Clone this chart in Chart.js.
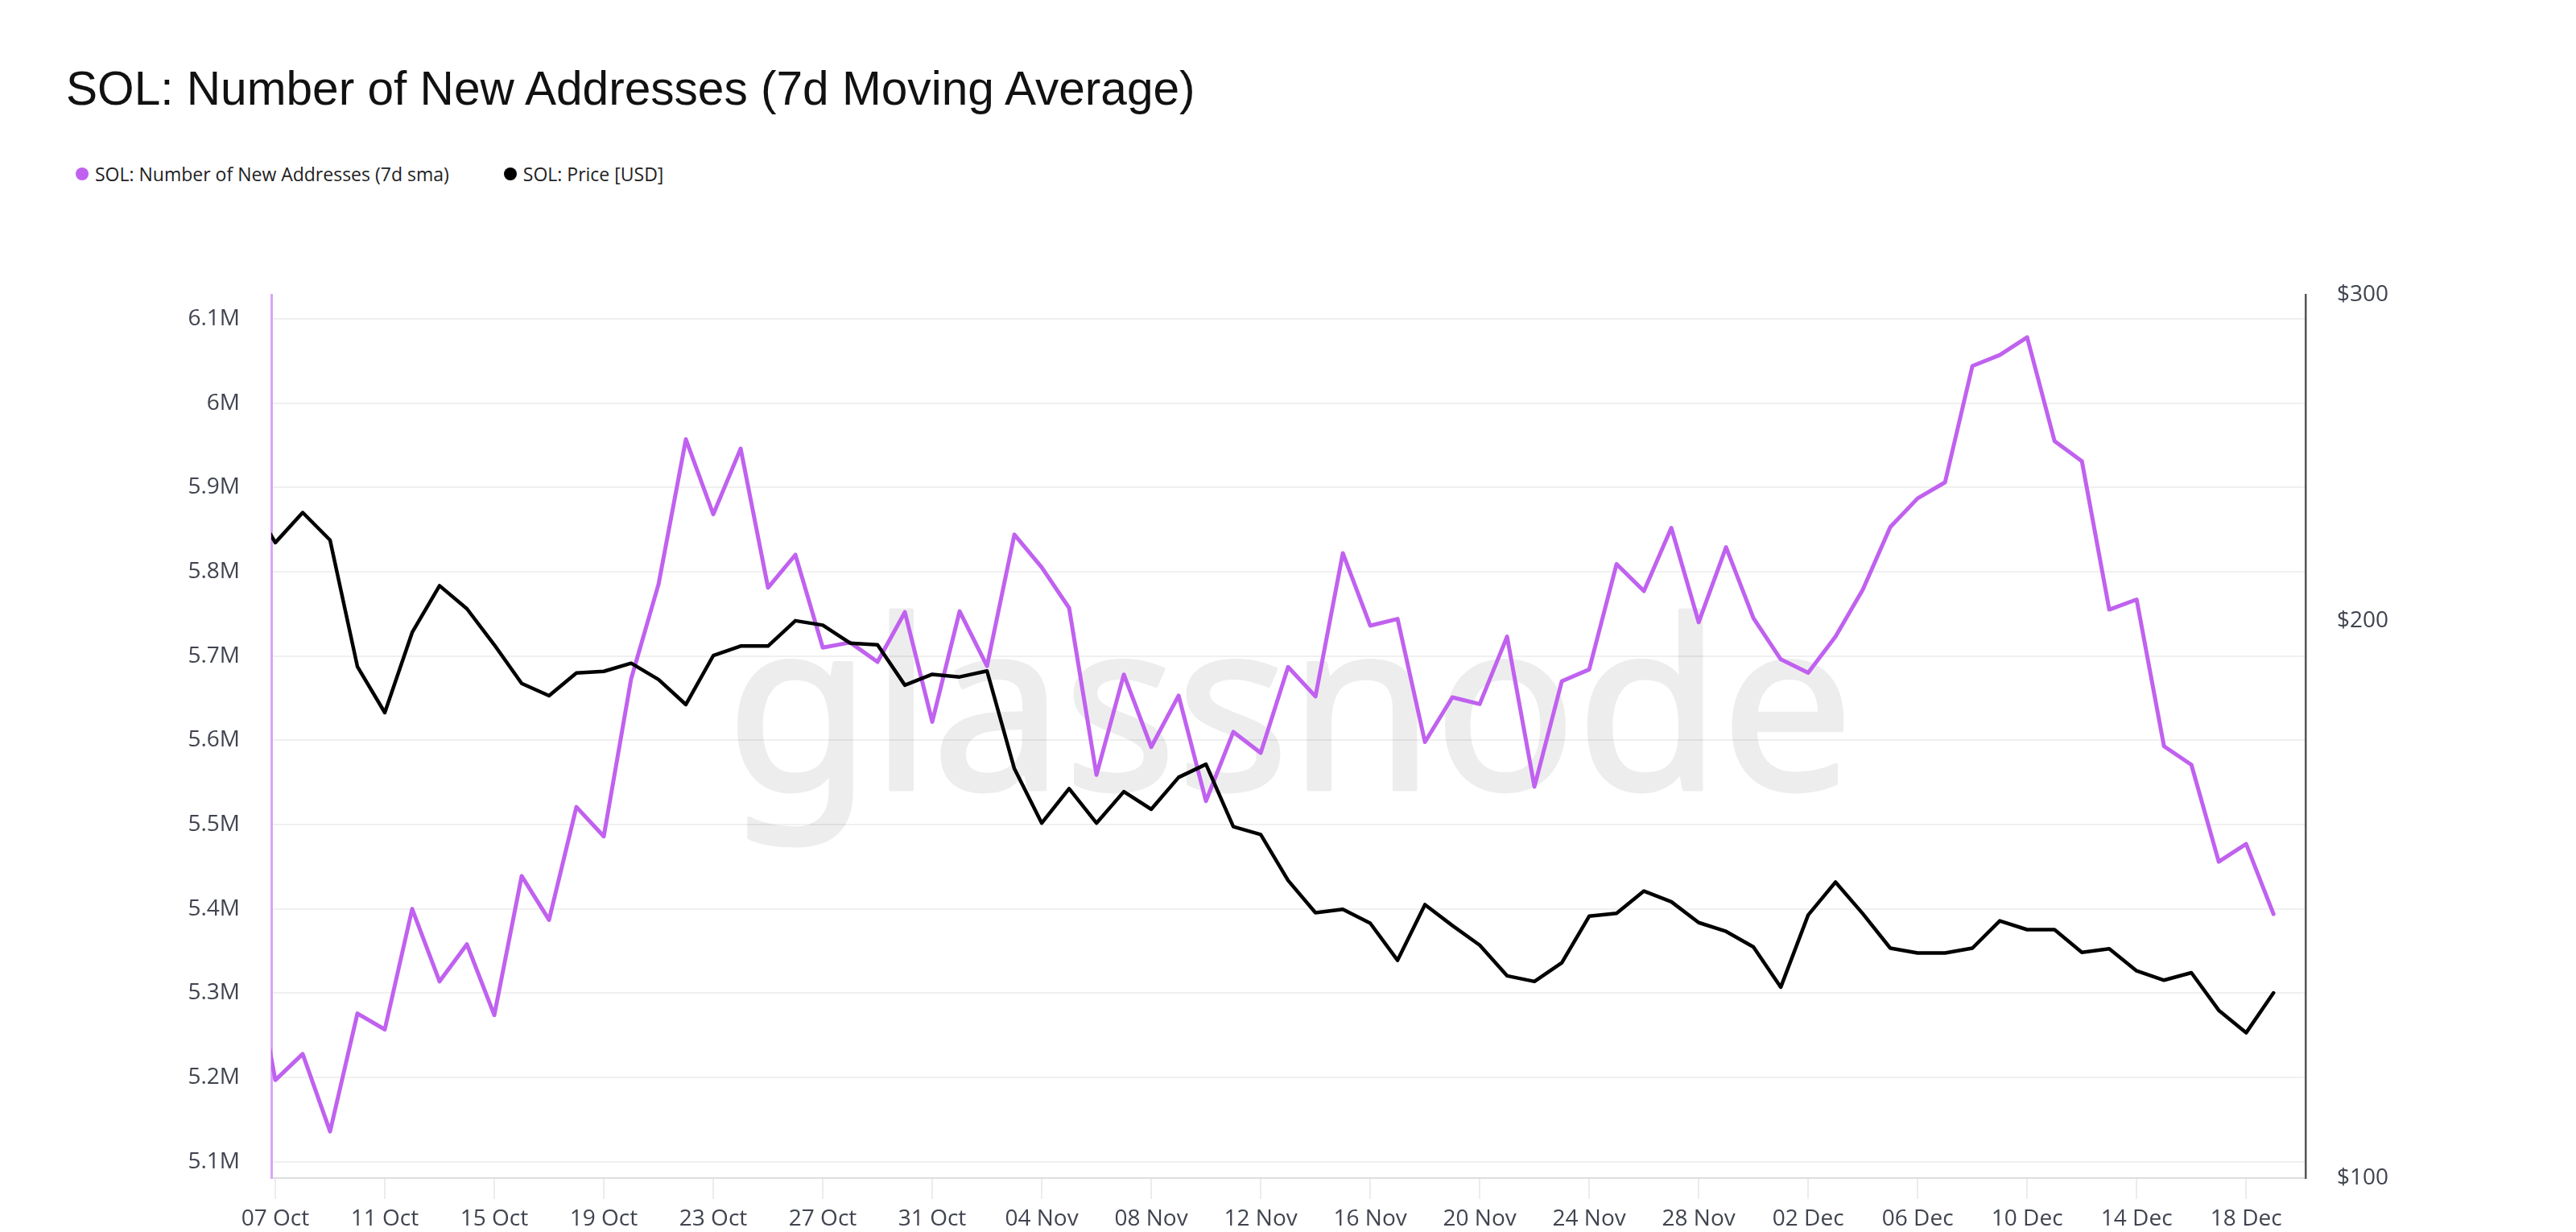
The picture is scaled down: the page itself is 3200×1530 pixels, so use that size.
<!DOCTYPE html>
<html>
<head>
<meta charset="utf-8">
<script src="https://cdn.jsdelivr.net/npm/chart.js@4.4.1/dist/chart.umd.min.js"></script>
<style>
  html, body { margin: 0; padding: 0; background: #fff; }
  body { width: 3200px; height: 1530px; position: relative; overflow: hidden; }
  #title {
    position: absolute; left: 82px; top: 80px;
    font: 58.6px "Liberation Sans", Arial, sans-serif; line-height: 60px; color: #111;
    white-space: nowrap;
  }
  #legend {
    position: absolute; left: 94px; top: 201px; height: 30px;
    display: flex; align-items: center;
    font: 23px "Open Sans", sans-serif; color: #222; white-space: nowrap;
  }
  .item { display: flex; align-items: center; margin-right: 68px; }
  .dot { width: 16px; height: 16px; border-radius: 50%; margin-right: 8px; }
  #chart { position: absolute; left: 0; top: 0; }
</style>
</head>
<body>
<div id="title">SOL: Number of New Addresses (7d Moving Average)</div>
<div id="legend"></div>
<canvas id="chart" width="3200" height="1530"></canvas>
<script>
/*----------------------
~~~~~~~Chart data~~~~~~~
----------------------*/
const dates = [
  '06 Oct', '07 Oct', '08 Oct', '09 Oct', '10 Oct', '11 Oct', '12 Oct', '13 Oct', '14 Oct', '15 Oct',
  '16 Oct', '17 Oct', '18 Oct', '19 Oct', '20 Oct', '21 Oct', '22 Oct', '23 Oct', '24 Oct', '25 Oct',
  '26 Oct', '27 Oct', '28 Oct', '29 Oct', '30 Oct', '31 Oct', '01 Nov', '02 Nov', '03 Nov', '04 Nov',
  '05 Nov', '06 Nov', '07 Nov', '08 Nov', '09 Nov', '10 Nov', '11 Nov', '12 Nov', '13 Nov', '14 Nov',
  '15 Nov', '16 Nov', '17 Nov', '18 Nov', '19 Nov', '20 Nov', '21 Nov', '22 Nov', '23 Nov', '24 Nov',
  '25 Nov', '26 Nov', '27 Nov', '28 Nov', '29 Nov', '30 Nov', '01 Dec', '02 Dec', '03 Dec', '04 Dec',
  '05 Dec', '06 Dec', '07 Dec', '08 Dec', '09 Dec', '10 Dec', '11 Dec', '12 Dec', '13 Dec', '14 Dec',
  '15 Dec', '16 Dec', '17 Dec', '18 Dec', '19 Dec'
];

// millions of new addresses, 7d sma
const newAddresses = [
  5.374, 5.197, 5.228, 5.136, 5.276, 5.257, 5.400, 5.314, 5.358, 5.274,
  5.439, 5.387, 5.521, 5.486, 5.673, 5.785, 5.957, 5.868, 5.946, 5.781,
  5.820, 5.710, 5.716, 5.693, 5.752, 5.622, 5.753, 5.688, 5.844, 5.805,
  5.757, 5.559, 5.678, 5.592, 5.653, 5.528, 5.610, 5.585, 5.687, 5.652,
  5.822, 5.736, 5.744, 5.598, 5.651, 5.643, 5.723, 5.545, 5.670, 5.684,
  5.809, 5.777, 5.852, 5.740, 5.829, 5.745, 5.696, 5.680, 5.723, 5.779,
  5.853, 5.887, 5.906, 6.044, 6.057, 6.078, 5.955, 5.931, 5.755, 5.767,
  5.593, 5.571, 5.456, 5.477, 5.394
];

// USD
const price = [
  233.9, 220.4, 228.8, 221.1, 188.9, 178.4, 197.1, 208.9, 203.0, 194.1,
  185.0, 182.2, 187.4, 187.8, 189.7, 185.9, 180.2, 191.5, 193.8, 193.8,
  200.0, 198.9, 194.5, 194.1, 184.6, 187.1, 186.5, 187.9, 166.4, 155.5,
  162.3, 155.5, 161.7, 158.2, 164.6, 167.3, 154.8, 153.3, 144.8, 139.1,
  139.7, 137.3, 131.1, 140.5, 136.9, 133.6, 128.6, 127.7, 130.7, 138.5,
  139.0, 142.9, 141.0, 137.4, 135.9, 133.3, 126.8, 138.7, 144.5, 138.9,
  133.1, 132.3, 132.3, 133.1, 137.7, 136.2, 136.2, 132.4, 133.0, 129.4,
  127.9, 129.1, 123.2, 119.8, 125.9
];

const xTickLabels = [
  '07 Oct', '11 Oct', '15 Oct', '19 Oct', '23 Oct', '27 Oct', '31 Oct', '04 Nov', '08 Nov',
  '12 Nov', '16 Nov', '20 Nov', '24 Nov', '28 Nov', '02 Dec', '06 Dec', '10 Dec', '14 Dec', '18 Dec'
];
const addressTicks = [5.1, 5.2, 5.3, 5.4, 5.5, 5.6, 5.7, 5.8, 5.9, 6.0, 6.1];
const priceTicks = [100, 200, 300];

const seriesNames = ['SOL: Number of New Addresses (7d sma)', 'SOL: Price [USD]'];
const seriesColors = ['#c061ef', '#000000'];


/*------------------
~~~~~~~Legend~~~~~~~
------------------*/
const legend = document.getElementById('legend');
seriesNames.forEach((name, i) => {
    const item = document.createElement('div');
    item.className = 'item';
    const dot = document.createElement('span');
    dot.className = 'dot';
    dot.style.background = seriesColors[i];
    const text = document.createElement('span');
    text.textContent = name;
    item.appendChild(dot);
    item.appendChild(text);
    legend.appendChild(item);
});


/*---------------------------
~~~~~~~Chart.js section~~~~~~~
---------------------------*/
const tickFont = { family: '"Open Sans", sans-serif', size: 28 };
const tickColor = '#40444f';

// big faint brand mark behind the lines (drawn solid off-screen, then faded in)
const watermark = {
    id: 'watermark',
    beforeDatasetsDraw(chart) {
        const area = chart.chartArea;
        const off = document.createElement('canvas');
        off.width = chart.width;
        off.height = chart.height;
        const o = off.getContext('2d');
        o.font = '300px "Noto Sans", sans-serif';
        const w = o.measureText('glassnode').width;
        const size = 300 * 1400 / w;
        o.font = size + 'px "Noto Sans", sans-serif';
        o.textAlign = 'center';
        o.textBaseline = 'alphabetic';
        o.fillStyle = '#000';
        o.strokeStyle = '#000';
        o.lineWidth = 5;
        o.lineJoin = 'round';
        const cx = (area.left + area.right) / 2 + 2;
        o.fillText('glassnode', cx, 980);
        o.strokeText('glassnode', cx, 980);

        const c = chart.ctx;
        c.save();
        c.globalAlpha = 0.07;
        c.drawImage(off, 0, 0);
        c.restore();
    }
};

const ctx = document.getElementById('chart').getContext('2d');
new Chart(ctx, {
    type: 'line',
    data: {
        datasets: [
            {
                label: seriesNames[0],
                data: newAddresses.map((v, i) => ({ x: i, y: v * 1e6 })),
                borderColor: seriesColors[0],
                borderWidth: 5,
                yAxisID: 'y',
                clip: 0,
                order: 2
            },
            {
                label: seriesNames[1],
                data: price.map((v, i) => ({ x: i, y: v })),
                borderColor: seriesColors[1],
                borderWidth: 4.5,
                yAxisID: 'y1',
                clip: 0,
                order: 1
            }
        ]
    },
    options: {
        responsive: false,
        animation: false,
        devicePixelRatio: 1,
        layout: { padding: { top: 366, bottom: 0, left: 0, right: 0 } },
        elements: {
            point: { radius: 0, hoverRadius: 0 },
            line: { tension: 0, borderJoinStyle: 'round', borderCapStyle: 'round' }
        },
        plugins: {
            legend: { display: false },
            title: { display: false },
            tooltip: { enabled: false }
        },
        scales: {
            x: {
                type: 'linear',
                position: 'bottom',
                min: 1 - 0.147,
                max: 1 + 74.17,
                afterBuildTicks: scale => {
                    scale.ticks = xTickLabels.map(l => ({ value: dates.indexOf(l) }));
                },
                afterFit: scale => { scale.height = 67; },
                ticks: {
                    callback: v => dates[v],
                    font: tickFont,
                    color: tickColor,
                    padding: 8,
                    maxRotation: 0,
                    autoSkip: false
                },
                grid: {
                    drawOnChartArea: false,
                    drawTicks: true,
                    tickLength: 26,
                    color: '#ececec',
                    lineWidth: 2
                },
                border: { color: '#dedede', width: 2 }
            },
            y: {
                type: 'linear',
                position: 'left',
                min: 5.0808e6,
                max: 6.1285e6,
                afterBuildTicks: scale => {
                    scale.ticks = addressTicks.map(v => ({ value: v * 1e6 }));
                },
                afterFit: scale => { scale.width = 337; },
                ticks: {
                    callback: v => Number((v / 1e6).toFixed(1)) + 'M',
                    font: tickFont,
                    color: tickColor,
                    padding: 39
                },
                grid: { color: '#f0f0f0', lineWidth: 2, drawTicks: false },
                border: { color: '#d9a6f6', width: 3 }
            },
            y1: {
                type: 'logarithmic',
                position: 'right',
                min: 100,
                max: 300,
                afterBuildTicks: scale => {
                    scale.ticks = priceTicks.map(v => ({ value: v }));
                },
                afterFit: scale => { scale.width = 336; },
                ticks: {
                    callback: v => '$' + v,
                    font: tickFont,
                    color: tickColor,
                    padding: 39
                },
                grid: { drawOnChartArea: false, drawTicks: false },
                border: { color: '#555555', width: 2.5 }
            }
        }
    },
    plugins: [watermark]
});
</script>
</body>
</html>
